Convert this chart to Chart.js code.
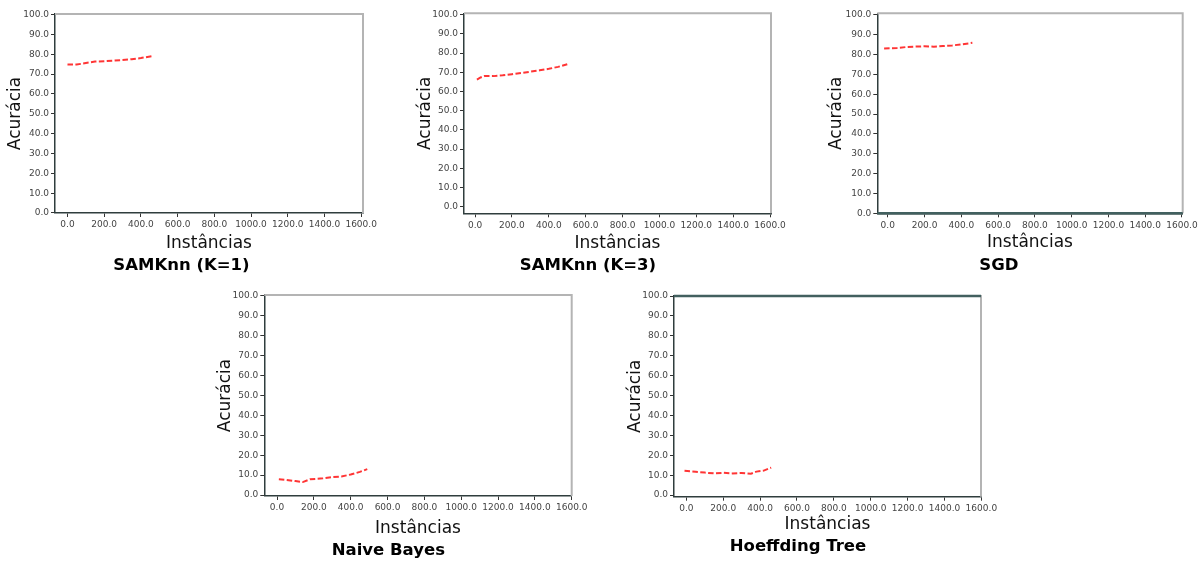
<!DOCTYPE html>
<html>
<head>
<meta charset="utf-8">
<script src="https://cdn.jsdelivr.net/npm/chart.js@4"></script>
<style>
  body { margin: 0; background: #fff; width: 1202px; height: 561px; position: relative; overflow: hidden; }
  canvas { position: absolute; }
</style>
</head>
<body>
<script>
// valori letti a occhio dal grafico originale (acurácia in %, per istanza)
const samknn1X = [0, 50, 100, 150, 200, 250, 300, 350, 400, 460];
const samknn1Y = [74.9, 74.8, 75.6, 76.3, 76.5, 76.8, 77.1, 77.5, 78.1, 79.0];

const samknn3X = [10, 30, 50, 100, 150, 200, 250, 300, 350, 400, 450, 500];
const samknn3Y = [66.2, 67.3, 68.0, 68.0, 68.4, 69.0, 69.6, 70.3, 71.0, 71.8, 72.8, 74.2];

const sgdX = [-20, 50, 100, 150, 200, 250, 300, 350, 400, 460];
const sgdY = [83.0, 83.3, 83.8, 84.0, 84.2, 84.0, 84.3, 84.6, 85.1, 85.9];

const nbX = [10, 50, 100, 140, 180, 250, 300, 350, 400, 450, 490];
const nbY = [7.9, 7.6, 7.0, 6.5, 7.9, 8.4, 9.0, 9.3, 10.3, 11.6, 13.0];

const htX = [-10, 50, 100, 150, 200, 250, 300, 350, 380, 420, 460];
const htY = [12.2, 11.7, 11.3, 10.9, 11.2, 10.9, 11.1, 10.7, 11.8, 12.3, 13.8];

// linee piatte che coprono tutto l'asse x
const flatX = [-200, 1800];
const sgdFloorY = [0, 0];
const htCeilingY = [100, 100];

const xTicks = [0, 200, 400, 600, 800, 1000, 1200, 1400, 1600];
const yTicks = [0, 10, 20, 30, 40, 50, 60, 70, 80, 90, 100];

const xLabel = 'Instâncias';
const yLabel = 'Acurácia';

const panels = [
  { title: 'SAMKnn (K=1)', xs: samknn1X, ys: samknn1Y,
    left: 0, top: 0, L: 55, R: 363, T: 14, B: 213,
    xmin: -68, xmax: 1610, ymin: 0, ymax: 100.3, yLabelX: 16, xLabelY: 243.3, titleY: 265.5 },
  { title: 'SAMKnn (K=3)', xs: samknn3X, ys: samknn3Y,
    left: 405, top: 0, L: 464, R: 771, T: 13.3, B: 213.3,
    xmin: -60, xmax: 1605, ymin: -3.4, ymax: 100.7, yLabelX: 425.7, xLabelY: 243.3, titleY: 265.5 },
  { title: 'SGD', xs: sgdX, ys: sgdY, flat: sgdFloorY,
    left: 815, top: 0, L: 877.3, R: 1182.7, T: 13.3, B: 213.3,
    xmin: -57, xmax: 1604, ymin: 0, ymax: 100.8, yLabelX: 836.7, xLabelY: 242.7, titleY: 265.5 },
  { title: 'Naive Bayes', xs: nbX, ys: nbY,
    left: 205, top: 282, L: 264.3, R: 571.7, T: 295, B: 496,
    xmin: -69, xmax: 1600, ymin: -0.5, ymax: 100.5, yLabelX: 225.7, xLabelY: 528.3, titleY: 550.5 },
  { title: 'Hoeffding Tree', xs: htX, ys: htY, flat: htCeilingY,
    left: 615, top: 282, L: 674, R: 981, T: 296, B: 496.7,
    xmin: -67, xmax: 1598, ymin: -0.8, ymax: 100, yLabelX: 635.7, xLabelY: 525, titleY: 547 }
];

// spine superiore e destra (grigio chiaro, come matplotlib sfocato)
const frame = {
  id: 'frame',
  beforeDatasetsDraw(chart) {
    const { ctx, chartArea: a } = chart;
    ctx.save();
    ctx.strokeStyle = '#b4b4b4';
    ctx.lineWidth = 2;
    ctx.beginPath();
    ctx.moveTo(a.left, a.top);
    ctx.lineTo(a.right, a.top);
    ctx.lineTo(a.right, a.bottom);
    ctx.stroke();
    ctx.restore();
  }
};

const FONT = "'DejaVu Sans', Verdana, sans-serif";
const axisSize = 17, titleSize = 16.5, LH = 1.2;

panels.forEach(p => {
  const xAxisH = p.xLabelY + axisSize * LH / 2 - p.B;
  const titlePadTop = p.titleY - (p.B + xAxisH) - titleSize * LH / 2;
  const bottomEdge = p.B + xAxisH + titlePadTop + titleSize * LH;
  const H = Math.ceil(bottomEdge - p.top + 3);
  const W = Math.min(Math.round(p.R - p.left + 20), 1202 - p.left);

  const canvas = document.createElement('canvas');
  canvas.width = W;
  canvas.height = H;
  canvas.style.left = p.left + 'px';
  canvas.style.top = p.top + 'px';
  document.body.appendChild(canvas);

  const datasets = [{
    data: p.xs.map((x, i) => ({ x, y: p.ys[i] })),
    borderColor: '#ff3535',
    borderWidth: 2,
    borderDash: [5.5, 2.4],
    pointRadius: 0,
    tension: 0
  }];
  if (p.flat) {
    datasets.push({
      data: flatX.map((x, i) => ({ x, y: p.flat[i] })),
      borderColor: '#42605f',
      borderWidth: 2.5,
      pointRadius: 0,
      clip: { left: 0, right: 0, top: 4, bottom: 4 }
    });
  }

  new Chart(canvas.getContext('2d'), {
    type: 'line',
    data: { datasets },
    plugins: [frame],
    options: {
      responsive: false,
      animation: false,
      events: [],
      layout: {
        padding: {
          left: 0,
          top: p.T - p.top,
          right: W - (p.R - p.left),
          bottom: H - (bottomEdge - p.top)
        }
      },
      plugins: {
        legend: { display: false },
        tooltip: { enabled: false },
        title: {
          display: true,
          position: 'bottom',
          text: p.title,
          color: '#000',
          font: { family: FONT, size: titleSize, weight: 'bold', lineHeight: LH },
          padding: { top: titlePadTop, bottom: 0 }
        }
      },
      scales: {
        x: {
          type: 'linear',
          min: p.xmin,
          max: p.xmax,
          afterBuildTicks: s => { s.ticks = xTicks.map(v => ({ value: v })); },
          afterFit: s => { s.height = xAxisH; },
          ticks: {
            autoSkip: false,
            maxRotation: 0,
            padding: 2.5,
            color: '#444',
            font: { family: FONT, size: 9 },
            callback: v => v.toFixed(1)
          },
          grid: { drawOnChartArea: false, drawTicks: true, tickLength: 4, color: '#333' },
          border: { display: true, color: '#2f3d3d', width: 1.5 },
          title: {
            display: true,
            text: xLabel,
            color: '#111',
            font: { family: FONT, size: axisSize, lineHeight: LH },
            padding: { top: 0, bottom: 0 }
          }
        },
        y: {
          min: p.ymin,
          max: p.ymax,
          afterBuildTicks: s => { s.ticks = yTicks.map(v => ({ value: v })); },
          afterFit: s => { s.width = p.L - p.left; },
          ticks: {
            padding: 2,
            color: '#444',
            font: { family: FONT, size: 9 },
            callback: v => v.toFixed(1)
          },
          grid: { drawOnChartArea: false, drawTicks: true, tickLength: 4, color: '#333' },
          border: { display: true, color: '#2f3d3d', width: 1.5 },
          title: {
            display: true,
            text: yLabel,
            color: '#111',
            font: { family: FONT, size: axisSize, lineHeight: LH },
            padding: { top: p.yLabelX - p.left - axisSize * LH / 2, bottom: 0 }
          }
        }
      }
    }
  });
});
</script>
</body>
</html>
